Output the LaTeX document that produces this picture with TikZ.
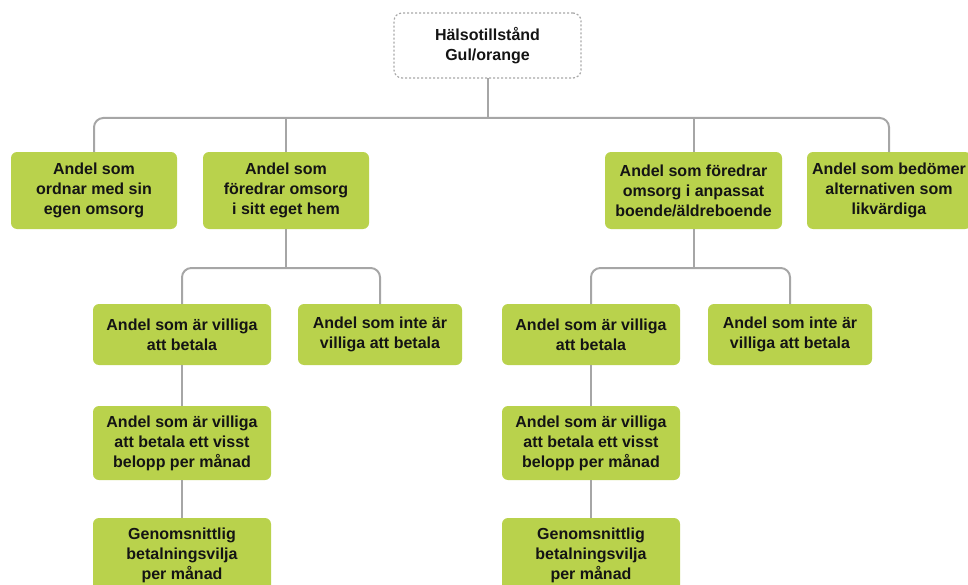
\documentclass[tikz,border=0pt]{standalone}
\usepackage{fontspec}
\setmainfont{Liberation Sans}
\usetikzlibrary{positioning,calc}
\definecolor{ink}{HTML}{141414}
\definecolor{leaf}{HTML}{B9D24C}
\definecolor{wire}{HTML}{A6A6A6}
\definecolor{frame}{HTML}{A8A8A8}

\begin{document}
\begin{tikzpicture}[
  x=0.75pt, y=-0.75pt,
  every node/.style={inner sep=0pt, outer sep=0pt, text=ink, align=center,
                     font=\fontsize{12pt}{15pt}\selectfont\bfseries},
  box/.style={fill=leaf, rounded corners=4.5pt, anchor=north west,
              minimum width=#1*0.75pt},
  topbox/.style={draw=frame, line width=0.9pt, dash pattern=on 1.5pt off 1.5pt,
                 rounded corners=6pt, anchor=north west, fill=white},
  link/.style={draw=wire, line width=1.5pt, rounded corners=7pt},
]

\clip (0,0) rectangle (968,585);

% ---------------------------------------------------------------- geometry
\def\rowa{152}   % top edge, row 1
\def\rowb{304}   % top edge, row 2
\def\rowc{406}   % top edge, row 3
\def\rowd{518}   % top edge, row 4
\def\ha{57.75pt} % row 1 height
\def\hb{45.75pt} % row 2 height
\def\hc{55.5pt}  % rows 3 and 4 height

% ---------------------------------------------------------------- root
\node[topbox, minimum width=140.25pt, minimum height=48.75pt] (T) at (394,13)
  {Hälsotillstånd\\Gul/orange};

% ---------------------------------------------------------------- row 1
\node[box=166, minimum height=\ha] (A1) at (11,\rowa)
  {Andel som\\ordnar med sin\\egen omsorg};
\node[box=166, minimum height=\ha] (A2) at (203,\rowa)
  {Andel som\\föredrar omsorg\\i sitt eget hem};
\node[box=177, minimum height=\ha] (A3) at (605,\rowa)
  {Andel som föredrar\\omsorg i anpassat\\boende/äldreboende};
\node[box=164, minimum height=\ha] (A4) at (807,\rowa)
  {Andel som bedömer\\alternativen som\\likvärdiga};

% ---------------------------------------------------------------- row 2
\node[box=178, minimum height=\hb] (B1) at (93,\rowb)
  {Andel som är villiga\\att betala};
\node[box=164, minimum height=\hb] (B2) at (298,\rowb)
  {Andel som inte är\\villiga att betala};
\node[box=178, minimum height=\hb] (B3) at (502,\rowb)
  {Andel som är villiga\\att betala};
\node[box=164, minimum height=\hb] (B4) at (708,\rowb)
  {Andel som inte är\\villiga att betala};

% ---------------------------------------------------------------- rows 3 and 4
\node[box=178, minimum height=\hc] (C1) at (93,\rowc)
  {Andel som är villiga\\att betala ett visst\\belopp per månad};
\node[box=178, minimum height=\hc] (C3) at (502,\rowc)
  {Andel som är villiga\\att betala ett visst\\belopp per månad};
\node[box=178, minimum height=\hc] (D1) at (93,\rowd)
  {Genomsnittlig\\betalningsvilja\\per månad};
\node[box=178, minimum height=\hc] (D3) at (502,\rowd)
  {Genomsnittlig\\betalningsvilja\\per månad};

% ---------------------------------------------------------------- links
\coordinate (bus) at (0,118);
\coordinate (sub) at (0,268);

\draw[link] (A1.north) |- (T.south |- bus) -| (A4.north);
\draw[link] (T.south) -- (T.south |- bus);
\draw[link] (A2.north) -- (A2.north |- bus);
\draw[link] (A3.north) -- (A3.north |- bus);

\draw[link] (A2.south) -- (A2.south |- sub);
\draw[link] (B1.north) |- (A2.south |- sub) -| (B2.north);
\draw[link] (A3.south) -- (A3.south |- sub);
\draw[link] (B3.north) |- (A3.south |- sub) -| (B4.north);

\draw[link] (B1.south) -- (C1.north);
\draw[link] (C1.south) -- (D1.north);
\draw[link] (B3.south) -- (C3.north);
\draw[link] (C3.south) -- (D3.north);

\end{tikzpicture}
\end{document}
